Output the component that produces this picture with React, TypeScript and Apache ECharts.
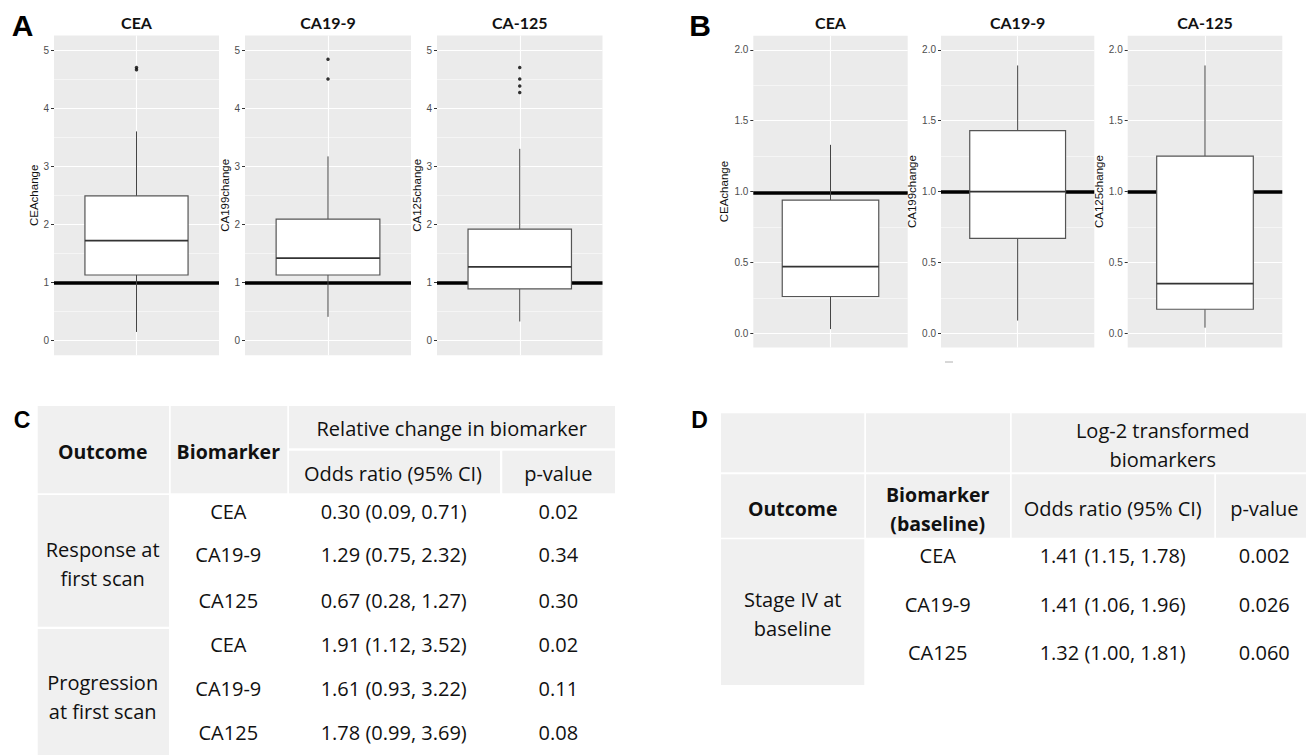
import React, { useEffect, useRef } from 'react';
import * as echarts from 'echarts';

// ---------------- DATA ----------------
const markers = ['CEA', 'CA19-9', 'CA-125'];
const axisNames = ['CEAchange', 'CA199change', 'CA125change'];

// [lower whisker, Q1, median, Q3, upper whisker]
const boxA = [
  [0.15, 1.13, 1.72, 2.49, 3.6],
  [0.41, 1.13, 1.42, 2.09, 3.17],
  [0.33, 0.89, 1.27, 1.92, 3.3],
];
const outliersA = [
  [4.66, 4.7],
  [4.5, 4.84],
  [4.27, 4.38, 4.5, 4.7],
];
const refA = [1, 1, 1];
const ticksA = [0, 1, 2, 3, 4, 5];

const boxB = [
  [0.03, 0.26, 0.47, 0.94, 1.33],
  [0.09, 0.67, 1.0, 1.43, 1.89],
  [0.04, 0.17, 0.35, 1.25, 1.89],
];
const outliersB: number[][] = [[], [], []];
const refB = [0.99, 1, 1];
const ticksB = [0, 0.5, 1, 1.5, 2];

// Table C
const tableCHeader = ['Outcome', 'Biomarker', 'Relative change in biomarker', 'Odds ratio (95% CI)', 'p-value'];
const tableCOutcomes = ['Response at\nfirst scan', 'Progression\nat first scan'];
const tableCBiomarkers = ['CEA', 'CA19-9', 'CA125', 'CEA', 'CA19-9', 'CA125'];
const tableCOdds = [
  '0.30 (0.09, 0.71)',
  '1.29 (0.75, 2.32)',
  '0.67 (0.28, 1.27)',
  '1.91 (1.12, 3.52)',
  '1.61 (0.93, 3.22)',
  '1.78 (0.99, 3.69)',
];
const tableCP = ['0.02', '0.34', '0.30', '0.02', '0.11', '0.08'];

// Table D
const tableDHeader = ['Log-2 transformed\nbiomarkers', 'Outcome', 'Biomarker\n(baseline)', 'Odds ratio (95% CI)', 'p-value'];
const tableDOutcome = 'Stage IV at\nbaseline';
const tableDBiomarkers = ['CEA', 'CA19-9', 'CA125'];
const tableDOdds = ['1.41 (1.15, 1.78)', '1.41 (1.06, 1.96)', '1.32 (1.00, 1.81)'];
const tableDP = ['0.002', '0.026', '0.060'];

// ---------------- LAYOUT ----------------
const W = 1306;
const H = 755;
const panels = [
  { left: 54, width: 165, top: 35.5, height: 319.7, min: -0.25, max: 5.25, gap: 6, box: boxA[0], out: outliersA[0], ref: refA[0], ticks: ticksA, dec: 0, title: markers[0], name: axisNames[0] },
  { left: 245, width: 166, top: 35.5, height: 319.7, min: -0.25, max: 5.25, gap: 6, box: boxA[1], out: outliersA[1], ref: refA[1], ticks: ticksA, dec: 0, title: markers[1], name: axisNames[1] },
  { left: 437, width: 165.5, top: 35.5, height: 319.7, min: -0.25, max: 5.25, gap: 6, box: boxA[2], out: outliersA[2], ref: refA[2], ticks: ticksA, dec: 0, title: markers[2], name: axisNames[2] },
  { left: 753.3, width: 154.4, top: 35.7, height: 311.8, min: -0.1, max: 2.1, gap: 12.5, box: boxB[0], out: outliersB[0], ref: refB[0], ticks: ticksB, dec: 1, title: markers[0], name: axisNames[0] },
  { left: 941, width: 153.3, top: 35.7, height: 311.8, min: -0.1, max: 2.1, gap: 12.5, box: boxB[1], out: outliersB[1], ref: refB[1], ticks: ticksB, dec: 1, title: markers[1], name: axisNames[1] },
  { left: 1127.7, width: 154.6, top: 35.7, height: 311.8, min: -0.1, max: 2.1, gap: 12.5, box: boxB[2], out: outliersB[2], ref: refB[2], ticks: ticksB, dec: 1, title: markers[2], name: axisNames[2] },
];

const GRAY = '#F0F0F0';
const TXT = '#111111';
const FONT = '"Open Sans"';

function txt(text: string, x: number, y: number, font: string, extra: any = {}) {
  return {
    type: 'text',
    x,
    y,
    silent: true,
    style: {
      text,
      font,
      fill: TXT,
      textAlign: 'center',
      textVerticalAlign: 'middle',
      align: 'center',
      verticalAlign: 'middle',
      ...extra,
    },
  };
}
function cell(x1: number, y1: number, x2: number, y2: number, fill = GRAY) {
  return { type: 'rect', silent: true, shape: { x: x1, y: y1, width: x2 - x1, height: y2 - y1 }, style: { fill } };
}

function buildOption() {
  const grid: any[] = [];
  const xAxis: any[] = [];
  const yAxis: any[] = [];
  const series: any[] = [];
  const graphic: any[] = [];

  panels.forEach((p, i) => {
    grid.push({
      left: p.left,
      top: p.top,
      width: p.width,
      height: p.height,
      show: true,
      backgroundColor: '#EBEBEB',
      borderWidth: 0,
    });
    xAxis.push({
      gridIndex: i,
      type: 'value',
      min: 0.4,
      max: 1.6,
      axisLine: { show: false },
      axisLabel: { show: false },
      splitLine: { show: false },
      axisTick: { show: true, length: 3, lineStyle: { color: '#333', width: 1 }, customValues: [1] },
    });
    yAxis.push({
      gridIndex: i,
      type: 'value',
      min: p.min,
      max: p.max,
      axisLine: { show: false },
      axisTick: { show: true, length: 3, lineStyle: { color: '#333', width: 1 }, customValues: p.ticks },
      axisLabel: {
        customValues: p.ticks,
        formatter: (v: number) => v.toFixed(p.dec),
        color: '#4D4D4D',
        fontSize: 10,
        fontFamily: 'Liberation Sans',
        margin: 5,
      },
      splitLine: { show: true, lineStyle: { color: '#ffffff', width: 1.1 } },
      minorTick: { show: false, splitNumber: 2 },
      minorSplitLine: { show: true, lineStyle: { color: '#ffffff', width: 0.5 } },
      name: p.name,
      nameLocation: 'middle',
      nameRotate: 90,
      nameGap: p.gap,
      nameTextStyle: { color: '#111', fontSize: 11.5, fontFamily: 'Liberation Sans' },
    });

    series.push({
      type: 'line',
      xAxisIndex: i,
      yAxisIndex: i,
      data: [[1, p.ref]],
      showSymbol: false,
      symbolSize: 0,
      lineStyle: { width: 0 },
      silent: true,
      z: 1,
      markLine: {
        silent: true,
        symbol: 'none',
        z: 1,
        animation: false,
        label: { show: false },
        emphasis: { disabled: true },
        data: [
          { xAxis: 1, lineStyle: { color: '#ffffff', width: 1.1, type: 'solid' } },
          { yAxis: p.ref, lineStyle: { color: '#000000', width: 3.5, type: 'solid' } },
        ],
      },
    });

    series.push({
      type: 'custom',
      xAxisIndex: i,
      yAxisIndex: i,
      z: 3,
      silent: true,
      data: [[1, ...p.box]],
      encode: { x: 0, y: [1, 2, 3, 4, 5] },
      renderItem: (params: any, api: any) => {
        const x = api.value(0);
        const lo = api.coord([x, api.value(1)]);
        const q1 = api.coord([x, api.value(2)]);
        const md = api.coord([x, api.value(3)]);
        const q3 = api.coord([x, api.value(4)]);
        const hi = api.coord([x, api.value(5)]);
        const half = api.size([0.75, 0])[0] / 2;
        const cx = lo[0];
        return {
          type: 'group',
          children: [
            { type: 'line', shape: { x1: cx, y1: q3[1], x2: cx, y2: hi[1] }, style: { stroke: '#444', lineWidth: 1 } },
            { type: 'line', shape: { x1: cx, y1: q1[1], x2: cx, y2: lo[1] }, style: { stroke: '#444', lineWidth: 1 } },
            {
              type: 'rect',
              shape: { x: cx - half, y: q3[1], width: half * 2, height: q1[1] - q3[1] },
              style: { fill: '#ffffff', stroke: '#555', lineWidth: 1.2 },
            },
            { type: 'line', shape: { x1: cx - half, y1: md[1], x2: cx + half, y2: md[1] }, style: { stroke: '#333', lineWidth: 1.8 } },
          ],
        };
      },
    });

    if (p.out.length) {
      series.push({
        type: 'scatter',
        xAxisIndex: i,
        yAxisIndex: i,
        z: 4,
        silent: true,
        symbolSize: 3.5,
        itemStyle: { color: '#000' },
        data: p.out.map((v) => [1, v]),
      });
    }

    graphic.push(txt(p.title, p.left + p.width / 2, 22.5, 'bold 16px Lato'));
  });

  // panel letters
  graphic.push(txt('A', 22.5, 25.8, 'bold 30px "Liberation Sans"', { fill: '#000' }));
  graphic.push(txt('B', 700, 25.8, 'bold 30px "Liberation Sans"', { fill: '#000' }));
  graphic.push(txt('C', 22, 420, 'bold 23px "Liberation Sans"', { fill: '#000' }));
  graphic.push(txt('D', 699.5, 420, 'bold 23px "Liberation Sans"', { fill: '#000' }));
  graphic.push({ type: 'line', silent: true, shape: { x1: 945, y1: 362, x2: 953, y2: 362 }, style: { stroke: '#b0b0b0', lineWidth: 1 } });

  const REG = `20px ${FONT}`;
  const BOLD = `bold 19.5px ${FONT}`;

  // ---------- Table C ----------
  graphic.push(cell(37.7, 406, 169, 493.3));
  graphic.push(cell(170.7, 406, 287.3, 493.3));
  graphic.push(cell(289, 406, 615, 448.3));
  graphic.push(cell(289, 450.7, 500, 493.3));
  graphic.push(cell(502.3, 450.7, 615, 493.3));
  graphic.push(cell(37.7, 495, 169, 626.7));
  graphic.push(cell(37.7, 629, 169, 755));
  graphic.push(txt(tableCHeader[0], 102.7, 451.7, BOLD));
  graphic.push(txt(tableCHeader[1], 228.3, 451.7, BOLD));
  graphic.push(txt(tableCHeader[2], 451.7, 428, REG));
  graphic.push(txt(tableCHeader[3], 393, 473, REG));
  graphic.push(txt(tableCHeader[4], 558.3, 473, REG));
  graphic.push(txt(tableCOutcomes[0], 102.7, 563.7, REG, { lineHeight: 29 }));
  graphic.push(txt(tableCOutcomes[1], 102.7, 697, REG, { lineHeight: 29.4 }));
  const rowsC = [511, 554.3, 600, 644.3, 688.3, 732.7];
  rowsC.forEach((y, i) => {
    graphic.push(txt(tableCBiomarkers[i], 228.3, y, REG));
    graphic.push(txt(tableCOdds[i], 393.7, y, REG));
    graphic.push(txt(tableCP[i], 558.3, y, REG));
  });

  // ---------- Table D ----------
  graphic.push(cell(721, 413.3, 864.3, 472.3));
  graphic.push(cell(866, 413.3, 1010, 472.3));
  graphic.push(cell(1011.7, 413.3, 1306, 472.3));
  graphic.push(cell(721, 474.3, 864.3, 537.7));
  graphic.push(cell(866, 474.3, 1010, 537.7));
  graphic.push(cell(1011.7, 474.3, 1214.3, 537.7));
  graphic.push(cell(1216, 474.3, 1306, 537.7));
  graphic.push(cell(721, 539.3, 864.3, 685));
  graphic.push(txt(tableDHeader[0], 1162.7, 444.5, REG, { lineHeight: 29 }));
  graphic.push(txt(tableDHeader[1], 792.7, 508.3, BOLD));
  graphic.push(txt(tableDHeader[2], 937.7, 509, BOLD, { lineHeight: 28.3 }));
  graphic.push(txt(tableDHeader[3], 1112.7, 508.3, REG));
  graphic.push(txt(tableDHeader[4], 1264.3, 508.3, REG));
  graphic.push(txt(tableDOutcome, 792.7, 613.7, REG, { lineHeight: 29.3 }));
  const rowsD = [555, 604.3, 652.3];
  rowsD.forEach((y, i) => {
    graphic.push(txt(tableDBiomarkers[i], 937.7, y, REG));
    graphic.push(txt(tableDOdds[i], 1112.7, y, REG));
    graphic.push(txt(tableDP[i], 1264.3, y, REG));
  });

  return {
    animation: false,
    backgroundColor: '#ffffff',
    grid,
    xAxis,
    yAxis,
    series,
    graphic: { elements: graphic },
  };
}

export default function App() {
  const ref = useRef<HTMLDivElement>(null);
  useEffect(() => {
    document.body.style.margin = '0';
    const chart = echarts.init(ref.current!, null, { renderer: 'svg', width: W, height: H });
    chart.setOption(buildOption() as any);
    return () => chart.dispose();
  }, []);
  return <div ref={ref} style={{ width: W, height: H, background: '#fff' }} />;
}
